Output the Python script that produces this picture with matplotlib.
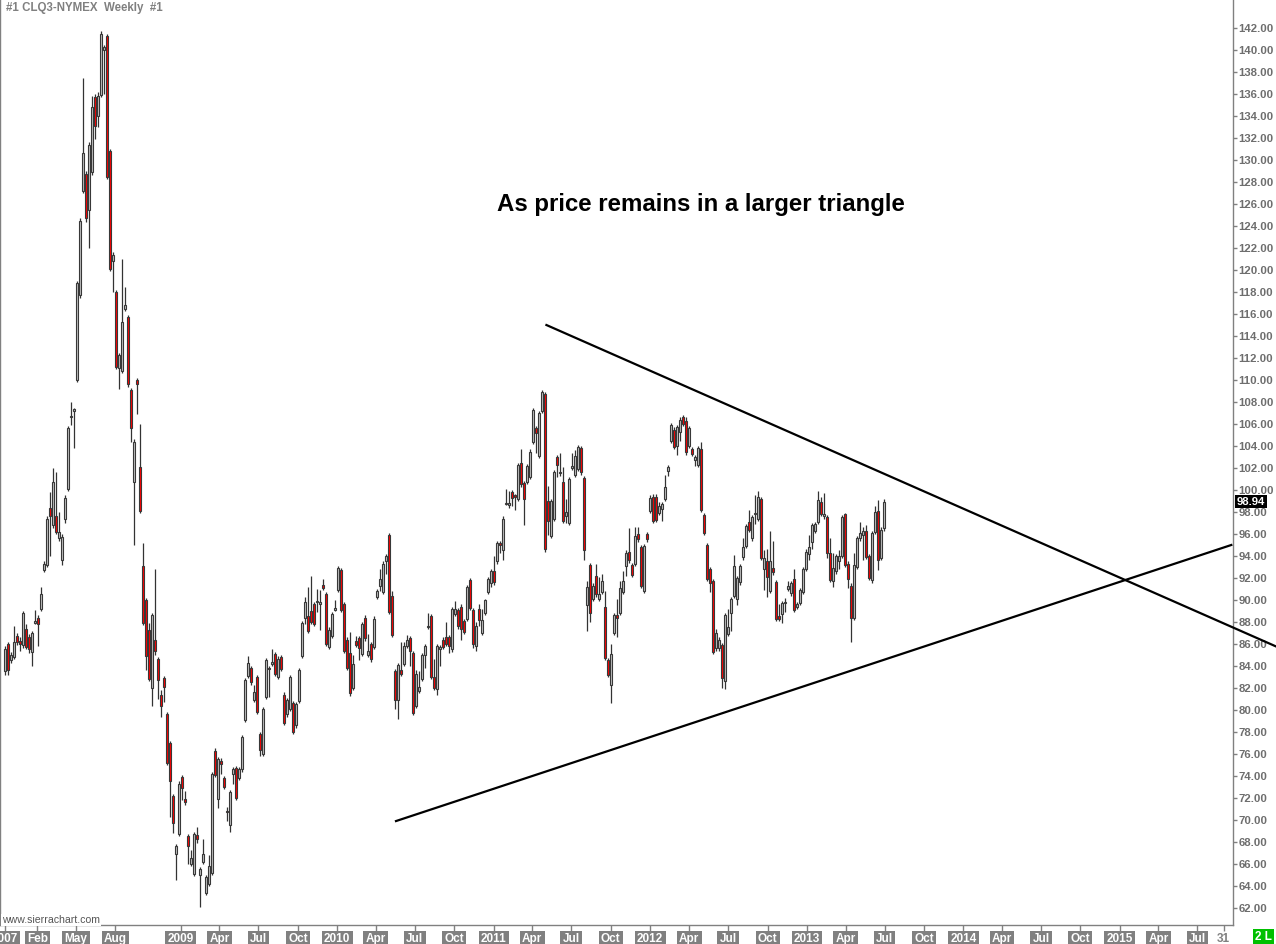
import numpy as np
import pandas as pd
import matplotlib
matplotlib.use('Agg')
import matplotlib.pyplot as plt
import matplotlib.dates as mdates
import matplotlib.transforms as mtrans
from matplotlib.ticker import FormatStrFormatter

plt.rcParams['font.family'] = ['Liberation Sans', 'DejaVu Sans']

# weekly bars, CLQ3
first_week = '2007-11-18'

opens = [
    83.5, 86.0, 84.5, 84.8, 86.7, 86.3, 85.9, 87.4, 86.6, 85.3,
    87.9, 88.4, 89.2, 92.7, 93.2, 98.4, 96.8, 97.6, 95.6, 93.6,
    97.4, 100.1, 106.6, 107.2, 110.0, 117.7, 127.2, 128.7, 125.5, 128.9,
    135.7, 134.0, 135.9, 140.0, 141.3, 130.8, 120.8, 118.0, 111.1, 110.8,
    116.5, 115.7, 109.1, 100.7, 110.0, 102.1, 93.1, 90.0, 87.3, 82.0,
    86.4, 84.6, 81.4, 82.9, 79.6, 77.0, 72.2, 66.9, 68.7, 73.9,
    71.9, 68.5, 66.0, 65.1, 68.6, 65.0, 66.2, 63.4, 64.2, 65.2,
    76.3, 71.9, 75.4, 73.8, 70.8, 69.5, 74.2, 74.7, 73.8, 74.6,
    79.1, 83.1, 83.8, 80.9, 83.0, 77.8, 76.0, 81.2, 83.8, 84.2,
    85.1, 83.0, 84.8, 81.4, 79.6, 80.1, 80.6, 78.6, 80.8, 84.9,
    88.4, 88.5, 89.0, 89.6, 89.8, 89.6, 91.4, 90.5, 85.7, 86.7,
    89.1, 90.9, 92.7, 89.6, 86.4, 85.2, 82.0, 86.3, 86.5, 85.1,
    88.4, 85.0, 86.0, 85.7, 90.3, 91.3, 90.7, 93.5, 95.9, 90.4,
    83.5, 80.9, 83.6, 84.2, 85.8, 86.5, 85.2, 80.4, 81.7, 82.8,
    85.0, 87.5, 88.5, 83.0, 81.9, 85.5, 86.4, 86.6, 86.6, 85.5,
    88.7, 89.1, 89.4, 88.1, 88.3, 91.8, 89.1, 85.8, 89.2, 87.0,
    88.8, 90.7, 91.5, 92.6, 93.5, 95.2, 94.5, 98.7, 98.6, 99.8,
    99.5, 99.2, 102.5, 100.6, 100.7, 101.2, 104.4, 105.6, 103.1, 107.2,
    108.7, 99.0, 95.8, 97.4, 103.0, 101.5, 100.7, 97.6, 97.0, 102.0,
    101.4, 101.9, 103.8, 101.1, 89.5, 93.2, 90.1, 92.2, 90.1, 90.7,
    89.4, 84.5, 82.3, 87.0, 88.6, 88.8, 90.7, 93.1, 94.4, 93.2,
    93.3, 96.0, 94.8, 90.8, 96.0, 98.1, 99.4, 99.4, 97.9, 98.3,
    99.2, 101.7, 104.5, 105.5, 104.0, 105.3, 106.6, 106.3, 104.0, 103.7,
    102.7, 102.3, 103.7, 97.7, 95.0, 92.8, 91.7, 85.6, 85.6, 85.9,
    82.6, 86.9, 88.8, 90.4, 90.1, 91.6, 93.9, 94.9, 97.1, 95.6,
    97.8, 97.4, 99.2, 92.8, 93.5, 90.8, 92.9, 91.6, 88.5, 88.7,
    89.7, 91.0, 90.6, 91.9, 89.4, 89.7, 90.7, 92.8, 94.2, 95.3,
    96.3, 97.1, 98.9, 97.6, 97.5, 94.3, 91.7, 92.6, 93.5, 94.0,
    97.8, 93.3, 91.3, 88.4, 93.0, 95.6, 95.9, 96.3, 94.0, 91.8,
    96.2, 98.1, 93.8, 96.5,
]

highs = [
    85.8, 86.2, 85.3, 87.6, 87.0, 86.6, 89.0, 87.8, 86.9, 87.2,
    89.1, 88.6, 91.2, 93.5, 97.6, 99.8, 102.0, 101.6, 98.0, 96.0,
    99.5, 105.8, 108.0, 107.5, 119.0, 124.7, 137.5, 129.0, 131.6, 135.8,
    136.0, 136.2, 141.7, 140.5, 141.5, 131.0, 121.6, 118.2, 112.5, 121.0,
    118.5, 115.9, 109.3, 104.6, 110.2, 106.0, 95.2, 90.2, 87.9, 88.8,
    92.8, 84.8, 81.8, 83.1, 79.8, 77.2, 72.4, 67.8, 73.5, 74.1,
    72.6, 68.7, 67.3, 68.9, 69.4, 65.7, 68.3, 65.0, 66.8, 74.4,
    76.5, 75.7, 75.6, 74.0, 71.2, 72.7, 74.8, 74.9, 74.8, 77.7,
    82.9, 84.9, 84.0, 82.3, 83.2, 78.0, 80.3, 84.7, 84.0, 85.5,
    85.3, 84.9, 85.0, 81.6, 81.1, 83.2, 80.8, 80.7, 83.8, 88.1,
    90.3, 91.2, 92.2, 89.8, 91.0, 90.9, 91.9, 90.7, 87.5, 88.9,
    90.0, 93.1, 92.9, 89.8, 86.6, 87.1, 85.0, 86.7, 86.7, 88.0,
    88.6, 86.9, 86.2, 88.5, 91.0, 92.8, 93.5, 94.2, 96.1, 90.8,
    83.7, 84.3, 86.2, 86.2, 86.8, 86.7, 85.4, 83.6, 83.5, 85.2,
    86.0, 88.8, 88.7, 84.6, 86.0, 85.9, 86.6, 88.0, 86.8, 89.4,
    89.9, 89.3, 89.6, 88.3, 91.4, 92.0, 89.3, 88.0, 89.6, 89.2,
    90.1, 92.1, 92.8, 94.0, 95.4, 95.4, 97.6, 100.1, 99.9, 100.0,
    99.6, 102.5, 103.7, 100.8, 102.4, 103.7, 107.5, 105.8, 107.2, 109.1,
    108.9, 100.4, 99.2, 101.8, 103.2, 103.4, 102.1, 99.2, 101.2, 103.4,
    103.6, 104.1, 104.0, 101.3, 91.7, 93.4, 91.5, 93.3, 92.1, 92.4,
    90.8, 84.7, 86.0, 88.8, 90.1, 91.7, 92.6, 94.5, 96.5, 93.4,
    96.6, 96.6, 95.0, 95.1, 96.2, 99.5, 99.6, 99.6, 98.9, 98.9,
    101.4, 102.3, 106.1, 105.7, 105.9, 106.6, 106.8, 106.6, 105.8, 103.9,
    103.2, 104.0, 104.4, 97.9, 95.2, 93.0, 91.9, 87.4, 86.6, 86.1,
    88.8, 89.2, 90.3, 94.1, 92.2, 93.3, 95.6, 96.9, 98.2, 97.7,
    99.5, 99.9, 99.4, 94.5, 94.6, 96.3, 95.4, 91.8, 89.6, 89.9,
    90.2, 91.7, 91.7, 92.8, 89.8, 91.1, 93.0, 94.6, 95.9, 97.0,
    97.1, 99.9, 99.4, 99.7, 97.7, 95.6, 94.3, 94.2, 94.5, 97.7,
    97.9, 93.5, 91.5, 94.3, 95.8, 97.1, 96.6, 96.8, 94.2, 96.3,
    98.5, 99.1, 96.6, 99.2,
]

lows = [
    83.2, 83.2, 84.3, 84.6, 85.9, 85.4, 85.6, 85.5, 85.2, 84.0,
    87.8, 85.8, 89.0, 92.5, 93.0, 94.0, 96.5, 96.0, 95.4, 93.2,
    97.0, 99.9, 105.9, 103.8, 109.8, 117.5, 127.0, 124.4, 122.0, 128.6,
    131.9, 133.0, 135.7, 136.0, 128.3, 119.9, 118.0, 111.0, 109.2, 110.6,
    116.3, 109.4, 104.4, 95.0, 106.9, 97.9, 87.7, 83.6, 82.6, 80.4,
    85.0, 81.0, 79.4, 80.7, 75.0, 70.3, 68.8, 64.5, 68.5, 71.8,
    71.4, 66.0, 65.8, 64.9, 67.9, 62.1, 66.0, 63.2, 64.0, 65.0,
    73.9, 71.1, 74.2, 72.8, 69.9, 68.9, 73.3, 71.8, 73.6, 74.4,
    78.9, 82.9, 82.3, 80.7, 79.6, 75.8, 75.8, 81.0, 81.2, 84.0,
    83.1, 82.8, 83.5, 78.6, 79.4, 79.9, 77.8, 78.4, 80.6, 84.7,
    87.8, 87.0, 87.8, 87.6, 88.9, 87.3, 90.9, 85.8, 85.5, 86.5,
    89.0, 90.7, 88.9, 85.2, 83.6, 81.3, 81.8, 85.7, 84.5, 84.9,
    86.3, 84.8, 84.4, 85.5, 90.1, 90.8, 90.5, 92.4, 88.7, 86.6,
    80.1, 79.2, 83.1, 84.0, 85.6, 84.0, 79.5, 80.2, 81.5, 82.6,
    83.8, 87.4, 82.8, 81.8, 81.4, 84.0, 85.5, 85.8, 85.2, 85.3,
    88.5, 87.4, 86.4, 86.9, 88.1, 89.1, 85.6, 85.4, 87.6, 86.8,
    88.6, 90.5, 91.2, 91.4, 93.3, 94.3, 93.6, 98.6, 98.4, 98.5,
    98.2, 99.0, 100.3, 96.8, 100.5, 101.0, 104.2, 103.4, 102.9, 107.0,
    94.4, 95.9, 95.6, 97.2, 101.2, 101.3, 97.0, 97.0, 96.8, 101.8,
    101.2, 101.7, 101.4, 93.6, 87.2, 88.0, 89.9, 90.3, 89.9, 90.5,
    84.5, 83.0, 80.6, 86.8, 86.6, 88.6, 90.5, 92.2, 93.4, 92.1,
    93.1, 95.3, 91.1, 90.6, 95.3, 97.9, 97.0, 97.1, 97.7, 97.2,
    99.0, 101.3, 104.3, 103.7, 103.2, 104.5, 105.8, 103.2, 103.8, 103.1,
    102.2, 102.1, 98.0, 95.9, 91.7, 90.7, 85.1, 85.4, 85.4, 82.0,
    81.9, 86.7, 87.2, 90.2, 89.5, 91.4, 93.6, 94.7, 96.2, 95.4,
    96.9, 97.2, 93.6, 90.9, 90.3, 90.6, 92.3, 88.1, 88.1, 87.9,
    88.9, 90.8, 90.4, 88.9, 89.2, 89.5, 90.5, 92.6, 93.6, 94.6,
    96.1, 96.9, 97.6, 97.4, 93.8, 91.6, 91.2, 92.4, 92.8, 93.8,
    93.0, 91.1, 86.2, 88.2, 92.8, 95.4, 93.6, 93.7, 91.8, 91.5,
    96.0, 92.7, 93.6, 96.3,
]

closes = [
    85.5, 83.6, 85.0, 86.2, 86.2, 86.0, 88.8, 85.7, 85.5, 87.0,
    88.0, 87.8, 90.5, 93.3, 97.4, 97.6, 100.7, 96.2, 96.2, 95.7,
    99.3, 105.6, 106.7, 107.3, 118.8, 124.5, 130.6, 124.7, 131.4, 134.8,
    133.1, 135.8, 141.5, 140.3, 128.5, 120.1, 121.4, 111.2, 112.3, 115.3,
    116.8, 109.6, 105.6, 104.4, 109.6, 98.1, 87.9, 84.9, 82.8, 88.6,
    85.4, 82.7, 80.4, 82.1, 75.2, 73.5, 69.7, 67.6, 73.3, 72.9,
    71.6, 67.6, 66.5, 68.7, 68.3, 65.5, 66.9, 64.8, 65.8, 74.2,
    74.1, 75.5, 75.1, 73.0, 70.7, 72.5, 74.6, 72.0, 74.6, 77.5,
    82.7, 84.3, 82.5, 81.6, 79.8, 76.4, 80.1, 84.5, 83.7, 84.4,
    83.3, 84.6, 83.7, 78.8, 80.9, 83.0, 78.0, 80.5, 83.6, 87.9,
    89.8, 87.2, 88.0, 87.8, 89.9, 89.8, 91.1, 86.0, 87.3, 88.7,
    89.3, 92.9, 89.1, 85.4, 83.8, 81.5, 84.2, 85.9, 85.6, 87.8,
    86.5, 85.4, 84.6, 88.3, 90.8, 91.9, 93.3, 94.0, 88.9, 86.8,
    80.9, 84.1, 83.3, 85.8, 86.4, 85.4, 79.7, 83.3, 82.1, 85.0,
    85.8, 87.6, 83.0, 82.0, 85.8, 85.7, 85.7, 86.0, 85.8, 89.2,
    89.2, 87.6, 87.4, 87.1, 91.2, 89.3, 86.0, 87.6, 88.2, 88.2,
    90.0, 91.9, 92.6, 91.6, 95.2, 95.0, 97.4, 98.8, 98.8, 99.3,
    99.4, 102.3, 100.5, 99.2, 102.2, 103.5, 107.3, 105.2, 107.0, 108.9,
    94.6, 97.2, 99.0, 101.6, 102.3, 101.6, 97.2, 98.0, 101.0, 102.1,
    103.1, 103.9, 101.6, 94.5, 91.2, 88.8, 91.3, 90.5, 90.5, 91.7,
    84.7, 83.2, 85.1, 88.6, 88.4, 91.1, 91.7, 94.3, 93.6, 92.3,
    95.8, 95.5, 91.3, 94.9, 95.5, 99.3, 97.2, 97.3, 98.5, 98.7,
    100.3, 102.1, 105.9, 103.9, 105.7, 106.4, 106.0, 103.5, 105.6, 103.3,
    103.0, 103.8, 98.2, 96.1, 91.9, 91.5, 85.3, 87.0, 86.4, 82.9,
    88.6, 87.5, 90.1, 93.1, 92.0, 93.1, 94.8, 96.7, 96.4, 97.5,
    97.9, 99.4, 93.8, 93.8, 92.1, 93.5, 92.5, 88.3, 88.3, 89.7,
    89.8, 91.3, 91.5, 89.1, 89.6, 90.9, 92.8, 94.4, 94.8, 96.8,
    96.9, 99.1, 97.8, 97.8, 94.3, 91.8, 92.9, 94.0, 94.0, 97.5,
    93.2, 91.9, 88.4, 93.2, 95.6, 96.1, 96.3, 93.9, 92.0, 96.1,
    98.0, 93.6, 96.4, 98.94,
]

last_price = 98.94

# trend lines (start, end)
upper_dates = ['2011-05-04', '2015-12-30']
upper_prices = [115.0, 85.8]
lower_dates = ['2010-05-18', '2015-09-18']
lower_prices = [69.9, 95.0]

tick_dates = ['2007-11-17', '2008-02-01', '2008-05-01', '2008-08-01',
              '2009-01-01', '2009-04-01', '2009-07-01', '2009-10-01',
              '2010-01-01', '2010-04-01', '2010-07-01', '2010-10-01',
              '2011-01-01', '2011-04-01', '2011-07-01', '2011-10-01',
              '2012-01-01', '2012-04-01', '2012-07-01', '2012-10-01',
              '2013-01-01', '2013-04-01', '2013-07-01', '2013-10-01',
              '2014-01-01', '2014-04-01', '2014-07-01', '2014-10-01',
              '2015-01-01', '2015-04-01', '2015-07-01', '2015-08-31']
tick_labels = ['2007', 'Feb', 'May', 'Aug',
               '2009', 'Apr', 'Jul', 'Oct',
               '2010', 'Apr', 'Jul', 'Oct',
               '2011', 'Apr', 'Jul', 'Oct',
               '2012', 'Apr', 'Jul', 'Oct',
               '2013', 'Apr', 'Jul', 'Oct',
               '2014', 'Apr', 'Jul', 'Oct',
               '2015', 'Apr', 'Jul', '31']

W, H = 1276, 944
fig = plt.figure(figsize=(W / 100, H / 100), dpi=100)
ax = fig.add_axes([0, 19 / H, 1233 / W, 925 / H])

x = mdates.date2num(pd.date_range(first_week, periods=len(closes), freq='7D'))
o = np.array(opens)
h = np.array(highs)
l = np.array(lows)
c = np.array(closes)
up = c >= o

# wicks then bodies
ax.vlines(x, l, h, color='#333333', lw=0.9, zorder=2)
body = np.maximum(np.abs(c - o), 0.15)
bottom = np.minimum(o, c)
ax.bar(x[up], body[up], bottom=bottom[up], width=5.2, color='#c0c0c0',
       edgecolor='#383838', linewidth=0.8, zorder=3)
ax.bar(x[~up], body[~up], bottom=bottom[~up], width=5.2, color='#ff0000',
       edgecolor='#383838', linewidth=0.8, zorder=3)

# triangle
ax.plot(mdates.datestr2num(upper_dates), upper_prices, color='black', lw=1.6,
        clip_on=False, zorder=4)
ax.plot(mdates.datestr2num(lower_dates), lower_prices, color='black', lw=1.6,
        clip_on=False, zorder=4)

ax.set_xlim(mdates.datestr2num('2007-11-06'), mdates.datestr2num('2015-09-22'))
ax.set_ylim(60.45, 144.55)

# axes styling
for s in ['left', 'right', 'bottom']:
    ax.spines[s].set_color('#808080')
    ax.spines[s].set_linewidth(1)
ax.spines['top'].set_visible(False)

ax.yaxis.tick_right()
ax.set_yticks(np.arange(62, 143, 2))
ax.yaxis.set_major_formatter(FormatStrFormatter('%.2f'))
ax.tick_params(axis='y', direction='out', length=3, width=1, color='#808080',
               labelsize=8.2, labelcolor='#6e6e6e', pad=1)
for lbl in ax.get_yticklabels():
    lbl.set_fontweight('bold')

ax.set_xticks(mdates.datestr2num(tick_dates))
ax.set_xticklabels(tick_labels)
ax.tick_params(axis='x', direction='out', length=4, width=1, color='#808080',
               labelsize=8.5, labelcolor='white', pad=2.0)
for lbl in ax.get_xticklabels():
    lbl.set_fontweight('bold')
    if lbl.get_text() == '31':
        lbl.set_color('#808080')
    else:
        lbl.set_bbox(dict(facecolor='#808080', edgecolor='none', pad=1.6))

# last price marker on the scale
trans = mtrans.blended_transform_factory(ax.transAxes, ax.transData)
ax.text(1.003, last_price, '%.2f' % last_price, transform=trans, ha='left',
        va='center', color='white', fontsize=8.2, fontweight='bold',
        bbox=dict(facecolor='black', edgecolor='none', pad=1.2), clip_on=False,
        zorder=6)

fig.text(6 / W, 1 - 2 / H, '#1 CLQ3-NYMEX  Weekly  #1', ha='left', va='top',
         color='#808080', fontsize=8.3, fontweight='bold')
fig.text(701 / W, 1 - 205 / H, 'As price remains in a larger triangle',
         ha='center', va='center', fontsize=17.3, fontweight='bold', color='black')
fig.text(2 / W, 1 - 925 / H, 'www.sierrachart.com', ha='left', va='bottom',
         fontsize=7.6, color='#555555',
         bbox=dict(facecolor='white', edgecolor='none', pad=0.5))
fig.text(1255 / W, 7 / H, '2 L', ha='left', va='center', color='white',
         fontsize=8.5, fontweight='bold',
         bbox=dict(facecolor='#00c000', edgecolor='none', pad=1.8))

fig.savefig('out.png', dpi=100, facecolor='white')
